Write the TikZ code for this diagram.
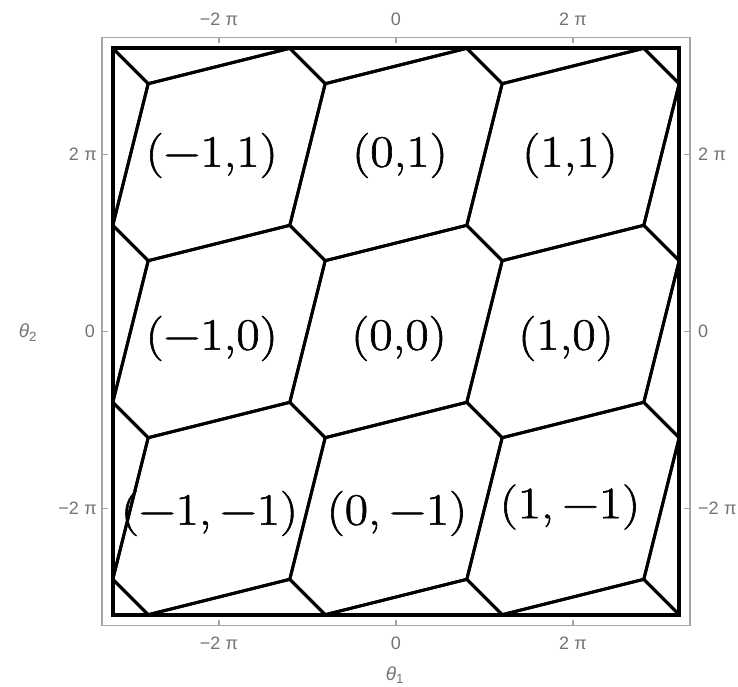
\documentclass[tikz,border=0pt]{standalone}
\usepackage{fontspec}
\usepackage{graphicx}
\newfontfamily\ticksans{Liberation Sans}
\newfontfamily\regfont[FakeBold=1.2]{Latin Modern Roman}
\definecolor{framegray}{RGB}{165,165,165}
\definecolor{tickgray}{RGB}{115,115,115}
\newcommand{\reglab}[1]{\scalebox{1.13}[1]{#1}}
\begin{document}
\begin{tikzpicture}[x=1pt,y=1pt,
  edge/.style={line width=3pt,line join=round,black},
  border/.style={line width=3.6pt,black},
  axisframe/.style={line width=1.3pt,framegray},
  ticklab/.style={font=\ticksans\fontsize{18}{20}\selectfont,text=tickgray,inner sep=0pt},
  axislab/.style={font=\ticksans\fontsize{19}{21}\selectfont,text=tickgray,inner sep=0pt},
  region/.style={font=\regfont\fontsize{45}{50}\selectfont,inner sep=0pt}]
\useasboundingbox (-396,-355.5) rectangle (342,331.5);
% tiling
\begin{scope}[x=88.5pt,y=88.5pt]
  \clip (-3.2,-3.2) rectangle (3.2,3.2);
  \foreach \i in {-2,...,2}{
    \foreach \j in {-2,...,2}{
      \draw[edge,shift={(2*\i,2*\j)}] (-0.8,0.8) -- (0.8,1.2) -- (1.2,0.8) -- (0.8,-0.8) -- (-0.8,-1.2) -- (-1.2,-0.8) -- cycle;
    }
  }
\end{scope}
\begin{scope}[x=88.5pt,y=88.5pt]
  \draw[border] (-3.2,-3.2) rectangle (3.2,3.2);
\end{scope}
% axes frame
\draw[axisframe] (-294,-294) rectangle (294,294);
\foreach \t in {-177,0,177}{
  \draw[axisframe] (\t,294) -- (\t,288);
  \draw[axisframe] (\t,-294) -- (\t,-288);
  \draw[axisframe] (-294,\t) -- (-288,\t);
  \draw[axisframe] (294,\t) -- (288,\t);
}
% tick labels
\node[ticklab] (tt1) at (-177,312) {−2\hspace{0.3em}π};
\node[ticklab] (tt2) at (0,312) {0};
\node[ticklab] (tt3) at (177,312) {2\hspace{0.3em}π};
\node[ticklab] (tb1) at (-177,-312) {−2\hspace{0.3em}π};
\node[ticklab] (tb2) at (0,-312) {0};
\node[ticklab] (tb3) at (177,-312) {2\hspace{0.3em}π};
\node[ticklab,anchor=east] (tl1) at (-299,177) {2\hspace{0.3em}π};
\node[ticklab,anchor=east] (tl2) at (-301,0) {0};
\node[ticklab,anchor=east] (tl3) at (-299,-177) {−2\hspace{0.3em}π};
\node[ticklab,anchor=west] (tr1) at (302,177) {2\hspace{0.3em}π};
\node[ticklab,anchor=west] (tr2) at (302,0) {0};
\node[ticklab,anchor=west] (tr3) at (302,-177) {−2\hspace{0.3em}π};
% axis labels
\node[axislab] (th1) at (-1,-344) {\textit{θ}\textsubscript{1}};
\node[axislab] (th2) at (-368,-1) {\textit{θ}\textsubscript{2}};
% region labels
\node[region] (r11) at (-184.3,176) {\reglab{(−1,1)}};
\node[region] (r01) at (4,176) {\reglab{(0,1)}};
\node[region] (r1p1) at (174,176) {\reglab{(1,1)}};
\node[region] (rm10) at (-184.3,-7) {\reglab{(−1,0)}};
\node[region] (r00) at (3,-7) {\reglab{(0,0)}};
\node[region] (r10) at (170,-7) {\reglab{(1,0)}};
\node[region] (rm1m1) at (-186.5,-182) {\reglab{(−1,\,−1)}};
\node[region] (r0m1) at (1,-182) {\reglab{(0,\,−1)}};
\node[region] (r1m1) at (174,-175.5) {\reglab{(1,\,−1)}};
\end{tikzpicture}
\end{document}
